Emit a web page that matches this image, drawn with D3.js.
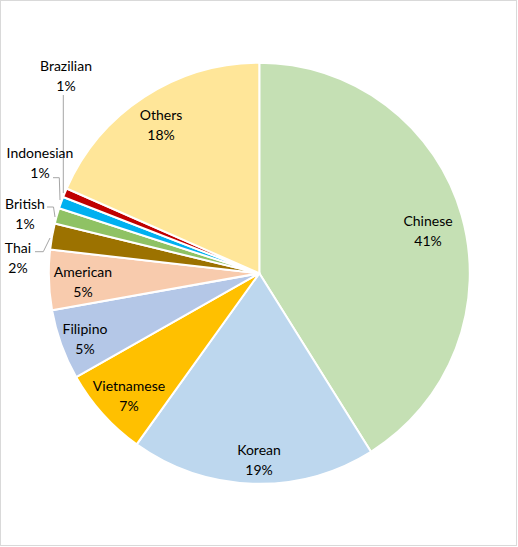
<!DOCTYPE html>
<html><head><meta charset="utf-8">
<script src="https://cdn.jsdelivr.net/npm/d3@7/dist/d3.min.js"></script>
<style>body{margin:0;background:#fff}svg{display:block}</style>
</head><body>
<svg id="c" width="518" height="547"></svg>
<script>
const categories = ["Chinese","Korean","Vietnamese","Filipino","American","Thai","British","Indonesian","Brazilian","Others"];
const shares = [0.411,0.188,0.069,0.054,0.046,0.020,0.012,0.009,0.007,0.184];
const colors = ["#C5E0B4","#BDD7EE","#FFC000","#B4C7E7","#F8CBAD","#9C7200","#8FC264","#00B0F0","#C00000","#FFE699"];
// label anchor positions (text center, first line)
const labelPos = [[428,221],[259,450],[129,386],[85,329],[83,272],[18,248],[25,204],[40,153],[66,66],[161,115]];

const svg = d3.select("#c");
svg.append("rect").attr("x",0.5).attr("y",0.5).attr("width",516).attr("height",545)
  .attr("fill","#fff").attr("stroke","#d9d9d9").attr("stroke-width",1);

const cx = 259.3, cy = 273.3, r = 210.5;
const pie = d3.pie().sort(null).value(d=>d)(shares);
const arc = d3.arc().innerRadius(0).outerRadius(r);
const g = svg.append("g").attr("transform",`translate(${cx},${cy})`);
g.selectAll("path").data(pie).join("path")
  .attr("d",arc).attr("fill",(d,i)=>colors[i])
  .attr("stroke","#fff").attr("stroke-width",2).attr("stroke-linejoin","round");

// leader lines for small slices
const leaders = [
  [[35,251.7],[43.3,251.7],[50,238]],
  [[47,207],[53.5,207],[55,217]],
  [[53,177.7],[59.3,177.7],[60,200]],
  [[63.3,95],[63.3,193]]
];
svg.selectAll("path.lead").data(leaders).join("path").attr("class","lead")
  .attr("d",d3.line()).attr("fill","none").attr("stroke","#a6a6a6").attr("stroke-width",1);

const fmt = d3.format(".0%");
const t = svg.append("g").attr("font-family","Lato, 'Open Sans', sans-serif").attr("font-size","14px").attr("fill","#000");
categories.forEach((c,i)=>{
  const [x,y]=labelPos[i];
  const tx = t.append("text").attr("text-anchor","middle").attr("x",x).attr("y",y).attr("dy","0.35em");
  tx.append("tspan").attr("x",x).text(c);
  tx.append("tspan").attr("x",x).attr("dy",20).text(fmt(shares[i]));
});
</script>
</body></html>
